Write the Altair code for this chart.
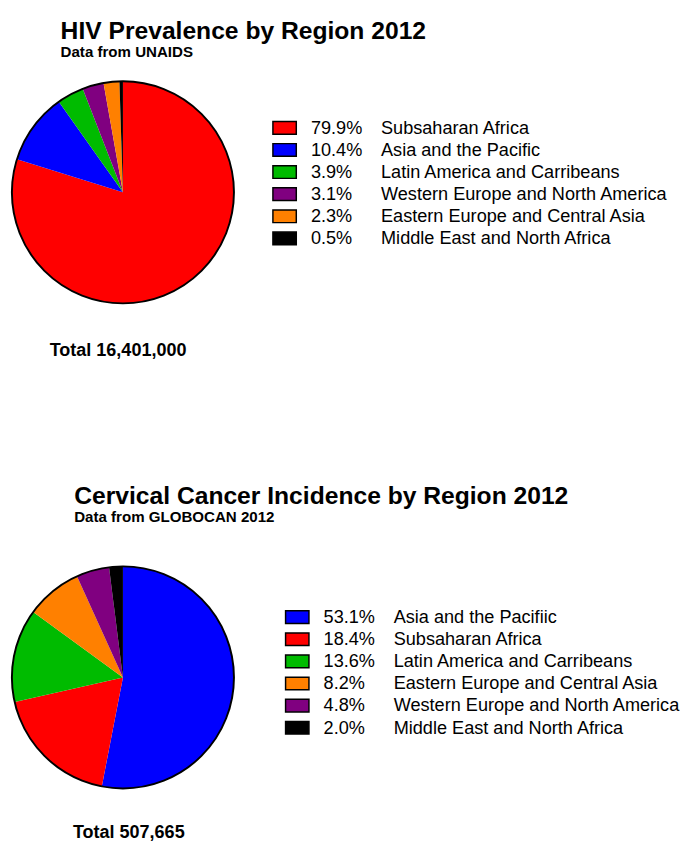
import altair as alt
import pandas as pd

# ---- data -------------------------------------------------------------
regions_hiv = [
    "Subsaharan Africa",
    "Asia and the Pacific",
    "Latin America and Carribeans",
    "Western Europe and North America",
    "Eastern Europe and Central Asia",
    "Middle East and North Africa",
]
shares_hiv = [79.9, 10.4, 3.9, 3.1, 2.3, 0.5]
colors_hiv = ["#ff0000", "#0000ff", "#00bb00", "#800080", "#ff8000", "#000000"]
total_hiv = "Total 16,401,000"

regions_cc = [
    "Asia and the Pacifiic",
    "Subsaharan Africa",
    "Latin America and Carribeans",
    "Eastern Europe and Central Asia",
    "Western Europe and North America",
    "Middle East and North Africa",
]
shares_cc = [53.1, 18.4, 13.6, 8.2, 4.8, 2.0]
colors_cc = ["#0000ff", "#ff0000", "#00bb00", "#ff8000", "#800080", "#000000"]
total_cc = "Total 507,665"

FONT = "Liberation Sans"
R = 114
ROW = 22.7


def make_df(regions, shares):
    return pd.DataFrame({"region": regions, "share": shares, "idx": list(range(len(regions)))})


def pie(regions, shares, colors, total, offset, dx):
    df = make_df(regions, shares)
    color = alt.Color("region:N", scale=alt.Scale(domain=regions, range=colors), legend=None)
    slices = alt.Chart(df).mark_arc(radius=R).encode(
        theta=alt.Theta("share:Q", stack=True),
        color=color,
        order=alt.Order("idx:Q"),
    )
    outline = alt.Chart(df).mark_arc(radius=R, fillOpacity=0, stroke="black", strokeWidth=2).encode(
        theta=alt.Theta("sum(share):Q")
    )
    return alt.layer(slices, outline).properties(
        width=2 * R,
        height=2 * R,
        title=alt.TitleParams(
            text=total,
            orient="bottom",
            anchor="middle",
            baseline="top",
            font=FONT,
            fontSize=18.5,
            fontWeight="bold",
            color="black",
            offset=offset,
            dx=dx,
        ),
    )


def legend(regions, shares, colors, height, top, width):
    df = make_df(regions, shares)
    n = len(regions)
    base = alt.Chart(df).transform_calculate(
        pct="format(datum.share, '.1f') + '%'"
    ).encode(
        y=alt.Y(
            "region:N",
            sort=regions,
            axis=None,
            scale=alt.Scale(paddingInner=0, paddingOuter=0, range=[top, top + n * ROW]),
        )
    )
    swatch = base.mark_bar(height=13, stroke="black", strokeWidth=1.5).encode(
        x=alt.value(0),
        x2=alt.value(24),
        color=alt.Color("region:N", scale=alt.Scale(domain=regions, range=colors), legend=None),
    )
    pct = base.mark_text(align="left", baseline="middle", font=FONT, fontSize=18.6, color="black").encode(
        x=alt.value(39), text="pct:N"
    )
    lab = base.mark_text(align="left", baseline="middle", font=FONT, fontSize=18.6, color="black").encode(
        x=alt.value(111), text="region:N"
    )
    return alt.layer(swatch, pct, lab).properties(width=width, height=height)


def section(title, subtitle, pie_chart, legend_chart, spacing, dx, sub_pad, offset):
    return alt.hconcat(pie_chart, legend_chart, spacing=spacing).properties(
        title=alt.TitleParams(
            text=title,
            subtitle=subtitle,
            anchor="start",
            dx=dx,
            font=FONT,
            fontSize=25.3,
            fontWeight="bold",
            color="black",
            subtitleFont=FONT,
            subtitleFontSize=15.5,
            subtitleFontWeight="bold",
            subtitleColor="black",
            subtitlePadding=sub_pad,
            offset=offset,
        )
    ).resolve_scale(color="independent", y="independent", theta="independent")


sec1 = section(
    "HIV Prevalence by Region 2012",
    "Data from UNAIDS",
    pie(regions_hiv, shares_hiv, colors_hiv, total_hiv, 35, -5),
    legend(regions_hiv, shares_hiv, colors_hiv, 205, 36.4, 400),
    35,
    54,
    1,
    18,
)
sec2 = section(
    "Cervical Cancer Incidence by Region 2012",
    "Data from GLOBOCAN 2012",
    pie(regions_cc, shares_cc, colors_cc, total_cc, 32, 6),
    legend(regions_cc, shares_cc, colors_cc, 215, 40.8, 390),
    48,
    68,
    1,
    38,
)

chart = (
    alt.vconcat(sec1, sec2, spacing=128)
    .resolve_scale(color="independent", y="independent", theta="independent")
    .properties(padding=0, background="white")
    .configure_view(strokeWidth=0)
)

chart.save("out.html", embed_options={"renderer": "svg", "actions": False})
